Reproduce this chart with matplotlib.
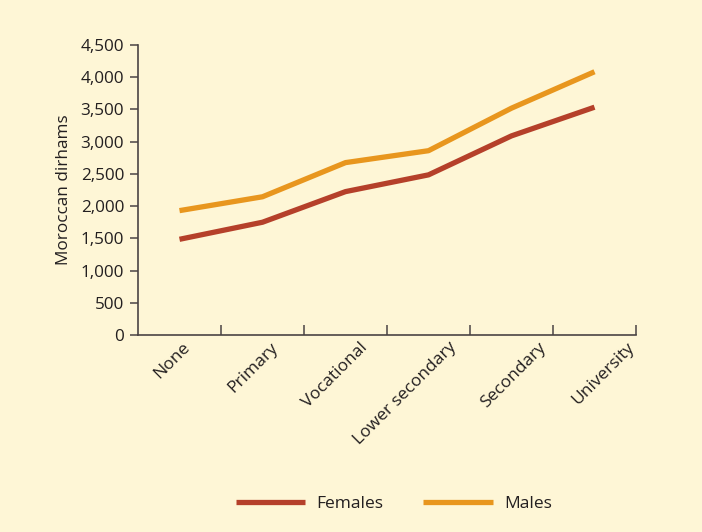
import matplotlib
matplotlib.use("Agg")
import matplotlib.pyplot as plt
import matplotlib.transforms as mtransforms

categories = ["None", "Primary", "Vocational", "Lower secondary", "Secondary", "University"]
females = [1485, 1750, 2225, 2485, 3090, 3535]
males = [1930, 2145, 2675, 2860, 3520, 4085]
y_ticks = [0, 500, 1000, 1500, 2000, 2500, 3000, 3500, 4000, 4500]

BG = "#FEF6D6"
RED = "#B5402A"
ORANGE = "#E8961E"
INK = "#231F20"
AXIS = "#4A4444"

plt.rcParams['font.family'] = ['Open Sans', 'DejaVu Sans']

fig = plt.figure(figsize=(7.02, 5.32), dpi=100, facecolor=BG)
ax = fig.add_axes([0.1966, 0.3703, 0.7094, 0.5451], facecolor=BG)

x = [i + 0.5 for i in range(len(categories))]
ax.plot(x, females, color=RED, lw=3.8, label="Females", solid_capstyle="butt")
ax.plot(x, males, color=ORANGE, lw=3.8, label="Males", solid_capstyle="butt")

ax.set_xlim(0, len(categories))
ax.set_ylim(0, 4500)

ax.set_yticks(y_ticks)
ax.set_yticklabels([f"{v:,}" for v in y_ticks], fontsize=12.3, color=INK)
ax.tick_params(axis="y", direction="out", length=6, width=1.1, color=AXIS, pad=4)

ax.set_xticks(range(1, len(categories) + 1))
ax.set_xticklabels([])
ax.set_xticks(x, minor=True)
labels = ax.set_xticklabels(categories, minor=True, rotation=45, ha="right",
                            rotation_mode="anchor", fontsize=12.5, color=INK)
ax.tick_params(axis="x", which="major", direction="in", length=7, width=1.1, color=AXIS)
ax.tick_params(axis="x", which="minor", length=0, pad=3)

# labels in the original drift a bit to the right going along the axis
for i, lab in enumerate(labels):
    shift = mtransforms.ScaledTranslation((2 + 6 * i) / 100, 0, fig.dpi_scale_trans)
    lab.set_transform(lab.get_transform() + shift)

ax.set_ylabel("Moroccan dirhams", fontsize=12.3, color=INK, labelpad=6)

for side in ["top", "right"]:
    ax.spines[side].set_visible(False)
for side in ["left", "bottom"]:
    ax.spines[side].set_color(AXIS)
    ax.spines[side].set_linewidth(1.2)

leg = fig.legend(loc="center", bbox_to_anchor=(0.561, 0.052), ncol=2, frameon=False,
                 fontsize=12.5, handlelength=4.0, handletextpad=0.65, columnspacing=2.3)
for t in leg.get_texts():
    t.set_color(INK)

fig.savefig("out.png", dpi=100, facecolor=BG)
